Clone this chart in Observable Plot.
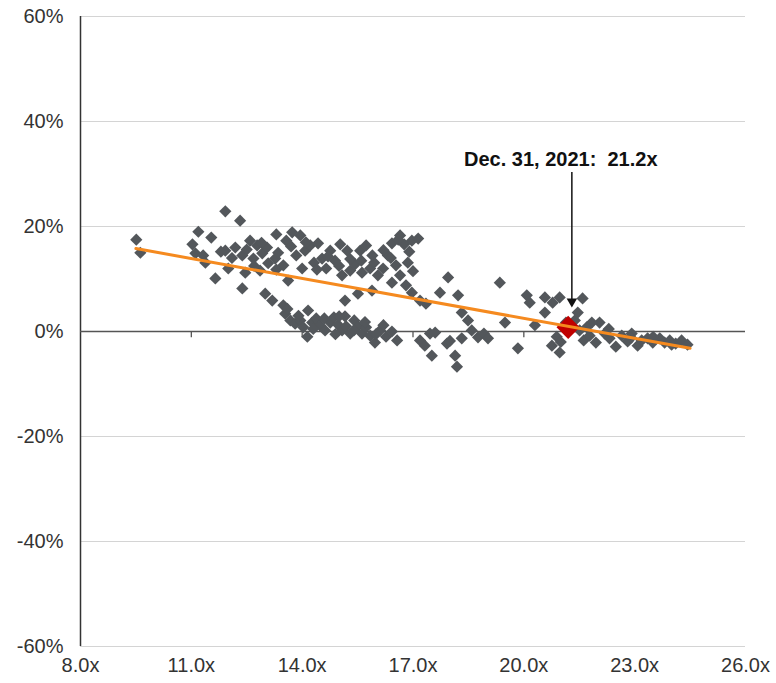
<!DOCTYPE html>
<html>
<head>
<meta charset="utf-8">
<script src="https://cdn.jsdelivr.net/npm/d3@7"></script>
<script src="https://cdn.jsdelivr.net/npm/@observablehq/plot@0.6"></script>
<style>
  html, body { margin: 0; padding: 0; background: #fff; }
  #chart { width: 776px; height: 683px; }
</style>
</head>
<body>
<div id="chart"></div>
<script>
// Forward P/E (x) vs subsequent 1-year return (%)
const peX = [
  9.51, 9.62, 11.03, 11.19, 11.11, 11.32, 11.38, 11.54, 11.65, 11.92,
  11.92, 12.0, 12.19, 12.32, 12.38, 12.38, 12.46, 12.59, 12.68, 12.78,
  12.86, 12.92, 13.0, 13.05, 13.08, 13.19, 13.27, 13.35, 13.49, 13.57,
  13.62, 13.73, 13.84, 13.95, 14.0, 14.08, 14.22, 14.32, 14.43, 14.54,
  14.65, 14.76, 14.89, 15.03, 15.08, 15.22, 15.30, 15.43, 15.57, 15.62,
  15.73, 15.84, 15.95, 16.05, 16.19, 16.32, 16.43, 16.54, 16.65, 16.76,
  16.86, 16.97, 17.14, 15.89, 15.16, 15.51, 16.43, 16.65, 16.81, 16.97,
  17.19, 17.35, 17.73, 17.95, 18.22, 18.32, 18.49,
  13.49, 13.54, 13.68, 13.81, 13.95, 14.03, 14.14, 14.27, 14.38, 14.49,
  14.62, 14.76, 14.86, 14.97, 15.08, 15.19, 15.30, 15.41, 15.51, 15.62,
  15.73, 15.84, 15.97, 16.11, 16.27, 16.43, 16.57, 15.16, 14.16,
  17.19, 17.32, 17.46, 17.51, 17.92, 18.14, 18.19, 18.32, 18.59, 18.76,
  18.92, 19.03, 19.35, 19.49, 19.84, 20.08, 20.16, 20.57, 20.78, 20.97,
  20.57, 20.76, 20.89, 20.97, 21.14, 21.38, 21.59, 21.46, 21.51, 21.62,
  21.78, 21.95, 22.05, 22.19, 22.32, 22.49, 22.65, 22.81, 22.92, 23.08,
  23.19, 23.35, 23.49, 23.68, 23.81, 23.95, 24.11, 24.27, 24.43, 21.84,
  13.3, 13.7, 14.1, 14.4, 14.7, 15.0, 15.3, 15.6, 15.9, 16.2,
  16.4, 16.6, 16.9, 17.0, 12.1, 12.5, 12.9, 13.3, 11.8, 12.7,
  13.6, 13.9, 14.3, 14.6, 14.9, 15.0, 15.4, 15.7, 16.0, 16.2,
  17.6, 18.0, 20.3, 21.0, 21.7, 22.3, 22.9, 23.5, 24.0
];
const returnY = [
  17.5, 15.0, 16.6, 19.0, 14.9, 14.5, 13.1, 17.9, 10.1, 22.9,
  15.4, 12.0, 16.0, 21.1, 14.5, 8.2, 11.2, 17.3, 13.9, 16.4,
  11.6, 14.9, 7.2, 16.0, 13.0, 5.9, 13.9, 15.0, 12.6, 17.3,
  9.7, 18.9, 14.5, 18.3, 12.0, 15.4, 16.4, 13.1, 16.8, 13.9,
  12.0, 15.4, 13.5, 16.6, 10.7, 15.4, 11.6, 12.8, 15.4, 11.2,
  16.4, 12.0, 13.1, 10.7, 12.0, 14.5, 16.8, 12.6, 18.3, 16.6,
  13.1, 17.3, 17.7, 7.8, 5.9, 7.2, 9.3, 10.7, 8.8, 7.4,
  5.9, 5.3, 7.4, 10.3, 6.9, 3.6, 2.1,
  5.0, 3.4, 2.1, 1.5, 2.1, 0.8, -1.0, 1.7, 2.5, 1.1,
  0.2, 1.7, 2.7, 1.3, 0.2, 1.0, -0.4, 2.1, 1.0, -0.4,
  0.8, -0.8, -2.1, 0.2, -1.0, 0.0, -1.7, 2.9, 4.0,
  -1.7, -2.7, -0.4, -4.6, -2.3, -4.6, -6.7, -1.3, 0.2, -1.1,
  -0.4, -1.3, 9.3, 1.7, -3.2, 6.9, 5.5, 6.5, 5.5, 6.5,
  3.6, -2.7, -1.0, -4.0, 1.7, 2.1, 6.3, 3.6, 0.2, -1.7,
  -0.8, -2.1, 1.7, -0.4, -1.3, -2.9, -0.8, -1.9, -0.4, -2.7,
  -1.7, -1.3, -2.1, -1.3, -2.1, -1.7, -2.3, -1.7, -2.5, 1.7,
  18.5, 16.2, 17.0, 11.8, 14.3, 12.5, 13.8, 13.5, 14.5, 15.5,
  14.0, 17.5, 15.2, 11.5, 14.0, 15.6, 16.9, 11.8, 15.2, 12.5,
  4.3, 3.0, 0.5, 2.5, -0.5, 2.9, 0.2, 1.8, -0.5, 1.2,
  -0.2, -1.8, 1.2, -2.0, 0.8, 0.5, -1.2, -1.0, -2.5
];

// Current valuation point
const currentX = [21.2];
const currentY = [0.8];

// Trend line endpoints
const trendX = [9.5, 24.5];
const trendY = [15.8, -3.2];

// Annotation
const annotationLabel = "Dec. 31, 2021:  21.2x";

// Ticks
const xTicks = [8, 11, 14, 17, 20, 23, 26];
const yTicks = [-60, -40, -20, 0, 20, 40, 60];

const points = peX.map((x, i) => ({x, y: returnY[i]}));
const current = currentX.map((x, i) => ({x, y: currentY[i]}));
const trend = trendX.map((x, i) => ({x, y: trendY[i]}));

const chart = Plot.plot({
  width: 776,
  height: 683,
  marginLeft: 80,
  marginRight: 31,
  marginTop: 16,
  marginBottom: 37,
  style: {fontFamily: "'Liberation Sans', Arial, sans-serif", background: "#fff"},
  x: {domain: [8, 26], ticks: xTicks},
  y: {domain: [-60, 60], ticks: yTicks},
  marks: [
    Plot.ruleY(yTicks.filter(d => d !== 0), {stroke: "#d4d4d4", strokeWidth: 1.2}),
    Plot.ruleX([8], {y1: -60, y2: 60, stroke: "#333", strokeWidth: 1.5}),
    Plot.ruleY([0], {stroke: "#555", strokeWidth: 1.3}),
    Plot.ruleX(xTicks.slice(1, -1), {y1: 0, y2: -1.2, stroke: "#555", strokeWidth: 1.3}),
    Plot.axisX({ticks: xTicks, tickSize: 0, tickPadding: 11, fontSize: 20, fill: "#333",
      tickFormat: d => d.toFixed(1) + "x", label: null}),
    Plot.axisY({ticks: yTicks, tickSize: 0, tickPadding: 17, fontSize: 20, fill: "#333",
      tickFormat: d => d + "%", label: null}),
    Plot.dot(points, {x: "x", y: "y", symbol: "diamond2", r: 5.5, fill: "#53575b", stroke: "none"}),
    Plot.dot(current, {x: "x", y: "y", symbol: "diamond2", r: 10.5, fill: "#c00000", stroke: "none"}),
    Plot.line(trend, {x: "x", y: "y", stroke: "#f58a1f", strokeWidth: 3}),
    Plot.ruleX([21.3], {y1: 30.3, y2: 6, stroke: "#111", strokeWidth: 1.5}),
    Plot.dot([21.3], {x: d => d, y: 5.7, symbol: "triangle2", rotate: 180, r: 5, fill: "#111", stroke: "none"}),
    Plot.text([annotationLabel], {x: 21.0, y: 32.8, text: d => d, fontSize: 20, fontWeight: "bold", fill: "#111", textAnchor: "middle"})
  ]
});
document.getElementById("chart").appendChild(chart);
</script>
</body>
</html>
